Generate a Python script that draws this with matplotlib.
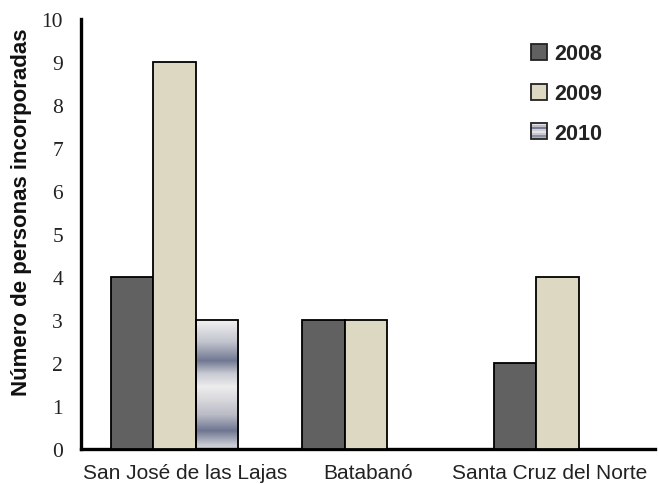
import matplotlib.pyplot as plt
import numpy as np
from matplotlib.patches import Patch, Rectangle
from matplotlib.colors import LinearSegmentedColormap
from matplotlib.legend_handler import HandlerBase

# personas incorporadas por municipio y año
municipios = ["San José de las Lajas", "Batabanó", "Santa Cruz del Norte"]
anios = ["2008", "2009", "2010"]
v2008 = [4, 3, 2]
v2009 = [9, 3, 4]
v2010 = [3, 0, 0]

c2008 = "#616161"
c2009 = "#ddd8c1"

# metallic banded fill for the 2010 bars (bottom -> top)
banda = LinearSegmentedColormap.from_list("banda", [
    (0.00, "#d4d4d9"), (0.03, "#c8cad3"), (0.14, "#6e7590"),
    (0.26, "#b8bac5"), (0.38, "#d8d8dd"), (0.48, "#ededee"),
    (0.58, "#c8cad3"), (0.68, "#707891"), (0.83, "#c4c6cf"),
    (1.00, "#f3f3f3")])

plt.rcParams["font.family"] = ["Liberation Sans", "DejaVu Sans"]

fig = plt.figure(figsize=(6.59, 4.85), dpi=100)
ax = fig.add_axes([0.123, 0.072, 0.871, 0.887])

x = np.arange(len(municipios))
w = 0.222

ax.bar(x - w, v2008, w, color=c2008, edgecolor="black", linewidth=1.3, zorder=3)
ax.bar(x, v2009, w, color=c2009, edgecolor="black", linewidth=1.3, zorder=3)

grad = np.linspace(0, 1, 256).reshape(-1, 1)
for xi, v in zip(x, v2010):
    if v <= 0:
        continue
    x0 = xi + w / 2
    img = ax.imshow(grad, cmap=banda, origin="lower", aspect="auto",
                    extent=[x0, x0 + w, 0, v], zorder=2, interpolation="bilinear")
    r = Rectangle((x0, 0), w, v, facecolor="none", edgecolor="black",
                  linewidth=1.3, zorder=3)
    ax.add_patch(r)
    img.set_clip_path(r)

ax.set_xlim(-0.488, 2.51)
ax.set_ylim(0, 10)
ax.set_yticks(range(0, 11))
# category labels sit a little off the group centres
ax.set_xticks(x + np.array([0.055, 0.01, -0.04]))
ax.set_xticklabels(municipios, fontsize=15, color="#222222")
for lab in ax.get_yticklabels():
    lab.set_family(["Liberation Serif", "DejaVu Serif"])
    lab.set_fontsize(15.5)
    lab.set_color("#222222")
ax.tick_params(axis="both", length=0)
ax.tick_params(axis="y", pad=13)
ax.tick_params(axis="x", pad=10)

for s in ["top", "right"]:
    ax.spines[s].set_visible(False)
ax.spines["left"].set_linewidth(2.4)
ax.spines["bottom"].set_linewidth(2.4)

ax.set_ylabel("Número de personas incorporadas", fontsize=16,
              fontweight="bold", color="#111111")
ax.yaxis.set_label_coords(-0.085, 0.553)


class HandlerBanda(HandlerBase):
    def create_artists(self, legend, orig_handle, xd, yd, width, height, fontsize, trans):
        n = 8
        arts = []
        for i in range(n):
            c = banda((i + 0.5) / n)
            arts.append(Rectangle((xd, yd + i * height / n), width, height / n,
                                  facecolor=c, edgecolor="none", transform=trans))
        arts.append(Rectangle((xd, yd), width, height, facecolor="none",
                              edgecolor="#222222", linewidth=1.3, transform=trans))
        return arts


handles = [Patch(facecolor=c2008, edgecolor="#222222", linewidth=1.3),
           Patch(facecolor=c2009, edgecolor="#222222", linewidth=1.3),
           Patch(facecolor="none")]
leg = ax.legend(handles, anios, loc="upper left", bbox_to_anchor=(0.750, 0.988),
                frameon=False, prop={"weight": "bold", "size": 15.5},
                handlelength=0.75, handleheight=0.75, handletextpad=0.35,
                labelspacing=0.88, handler_map={handles[2]: HandlerBanda()})
for t in leg.get_texts():
    t.set_color("#222222")

fig.savefig("out.png", dpi=100)
